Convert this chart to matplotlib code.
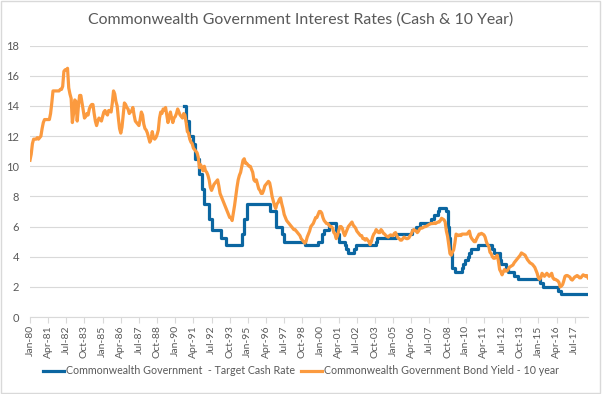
import matplotlib
matplotlib.use("Agg")
import matplotlib.pyplot as plt
from matplotlib.patches import Rectangle
import pandas as pd

plt.rcParams['font.family'] = ['Lato', 'DejaVu Sans']

TITLE = "Commonwealth Government Interest Rates (Cash & 10 Year)"
CASH_LABEL = "Commonwealth Government  - Target Cash Rate"
BOND_LABEL = "Commonwealth Government Bond Yield - 10 year"
START = "1980-01-01"

# 10 year bond yield, monthly from Jan-80 (one row per year)
bond_yield = [
    10.4, 10.8, 11.5, 11.8, 11.8, 11.8, 11.9, 11.8, 11.9, 12.0, 12.5, 12.9,  # 1980
    13.1, 13.1, 13.1, 13.1, 13.1, 13.5, 14.2, 15.0, 15.0, 15.0, 15.0, 15.0,  # 1981
    15.0, 15.1, 15.1, 15.3, 16.3, 16.4, 16.4, 16.5, 15.2, 14.8, 14.5, 12.9,  # 1982
    13.5, 14.4, 14.3, 13.0, 14.0, 14.7, 14.7, 14.2, 13.7, 13.2, 13.3, 13.5,  # 1983
    13.4, 13.8, 14.0, 14.1, 14.1, 13.5, 13.0, 12.7, 13.0, 13.2, 13.1, 13.0,  # 1984
    13.3, 13.6, 13.7, 13.5, 13.4, 13.7, 13.7, 13.6, 14.2, 15.0, 14.8, 14.3,  # 1985
    14.0, 13.2, 12.5, 12.2, 12.6, 13.4, 14.2, 14.1, 13.9, 13.8, 13.5, 13.6,  # 1986
    13.7, 13.9, 13.4, 13.0, 12.9, 12.8, 12.7, 13.1, 13.6, 13.4, 12.8, 12.5,  # 1987
    12.4, 12.2, 11.9, 11.6, 11.8, 12.3, 11.9, 11.8, 11.9, 12.1, 12.4, 13.2,  # 1988
    13.6, 13.5, 13.8, 13.7, 13.9, 13.4, 12.9, 13.3, 13.6, 13.2, 12.9, 13.2,  # 1989
    13.3, 13.5, 13.8, 13.6, 13.4, 13.3, 13.2, 13.5, 13.4, 12.9, 12.3, 12.2,  # 1990
    11.8, 11.6, 11.5, 11.2, 11.1, 11.0, 10.9, 10.6, 9.9, 10.1, 9.9, 9.7,     # 1991
    10.0, 9.7, 9.6, 9.4, 9.1, 8.6, 8.4, 8.6, 8.8, 8.9, 9.0, 9.1,             # 1992
    8.7, 8.2, 8.0, 7.8, 7.6, 7.4, 7.2, 7.0, 6.8, 6.6, 6.6, 6.4,              # 1993
    6.9, 7.4, 8.0, 8.6, 9.1, 9.4, 9.6, 10.0, 10.4, 10.5, 10.2, 10.2,         # 1994
    10.1, 10.0, 10.0, 9.8, 9.6, 9.1, 9.0, 9.1, 8.8, 8.5, 8.4, 8.2,           # 1995
    8.2, 8.4, 8.7, 8.8, 8.9, 9.0, 8.9, 8.5, 8.0, 7.7, 7.4, 7.2,              # 1996
    7.5, 7.6, 7.8, 7.9, 7.5, 7.2, 6.8, 6.6, 6.4, 6.3, 6.2, 6.1,              # 1997
    6.0, 5.9, 5.8, 5.8, 5.7, 5.6, 5.5, 5.4, 5.2, 5.1, 5.0, 4.9,              # 1998
    5.0, 5.3, 5.5, 5.7, 6.0, 6.1, 6.2, 6.4, 6.6, 6.6, 6.8, 7.0,              # 1999
    7.0, 6.9, 6.6, 6.4, 6.3, 6.2, 6.2, 6.1, 6.0, 6.0, 5.9, 5.6,              # 2000
    5.5, 5.2, 5.4, 5.7, 6.0, 6.0, 5.9, 5.6, 5.4, 5.6, 5.8, 6.0,              # 2001
    6.1, 6.2, 6.3, 6.1, 6.0, 5.9, 5.7, 5.6, 5.5, 5.4, 5.4, 5.2,              # 2002
    5.2, 5.1, 5.2, 5.1, 5.0, 4.8, 5.0, 5.3, 5.5, 5.6, 5.8, 5.7,              # 2003
    5.6, 5.6, 5.8, 5.7, 5.55, 5.5, 5.4, 5.35, 5.3, 5.4, 5.45, 5.4,           # 2004
    5.4, 5.55, 5.6, 5.4, 5.25, 5.2, 5.1, 5.1, 5.2, 5.3, 5.25, 5.2,           # 2005
    5.2, 5.25, 5.4, 5.5, 5.7, 5.8, 5.75, 5.7, 5.6, 5.7, 5.85, 5.9,           # 2006
    5.9, 5.95, 6.0, 6.0, 6.05, 6.1, 6.15, 6.2, 6.2, 6.2, 6.25, 6.2,          # 2007
    6.25, 6.3, 6.3, 6.4, 6.55, 6.5, 6.45, 6.3, 5.7, 5.35, 4.8, 4.2,          # 2008
    4.1, 4.3, 4.45, 4.9, 5.5, 5.45, 5.4, 5.45, 5.4, 5.5, 5.5, 5.5,           # 2009
    5.5, 5.5, 5.6, 5.7, 5.35, 5.2, 5.1, 5.0, 5.0, 5.2, 5.35, 5.5,            # 2010
    5.5, 5.55, 5.5, 5.45, 5.3, 5.0, 4.8, 4.7, 4.3, 4.2, 4.0, 3.9,            # 2011
    3.9, 4.0, 4.1, 3.7, 3.15, 3.0, 2.8, 3.0, 3.15, 3.05, 3.05, 3.15,         # 2012
    3.3, 3.35, 3.4, 3.45, 3.6, 3.7, 3.8, 3.9, 4.0, 4.1, 4.25, 4.2,           # 2013
    4.15, 4.1, 3.95, 3.8, 3.7, 3.6, 3.55, 3.5, 3.4, 3.3, 3.1, 2.9,           # 2014
    2.6, 2.5, 2.6, 2.9, 2.8, 2.7, 2.8, 2.9, 2.8, 2.7, 2.8, 2.9,              # 2015
    2.6, 2.5, 2.5, 2.45, 2.4, 2.3, 2.0, 2.05, 2.15, 2.4, 2.7, 2.75,          # 2016
    2.75, 2.7, 2.65, 2.5, 2.45, 2.55, 2.65, 2.7, 2.75, 2.7, 2.6, 2.6,        # 2017
    2.7, 2.8, 2.75, 2.7, 2.75, 2.6,                                          # 2018
]

# target cash rate: month it changed and the new rate (last entry = end of data)
cash_dates = [
    "1990-08", "1990-10", "1990-12", "1991-04", "1991-05", "1991-09", "1991-11",
    "1992-01", "1992-05", "1992-07", "1993-03", "1993-07", "1994-08", "1994-10",
    "1994-12", "1996-07", "1996-12", "1997-05", "1997-07", "1998-12", "1999-11",
    "2000-02", "2000-04", "2000-08", "2001-02", "2001-03", "2001-04", "2001-09",
    "2001-10", "2001-12", "2002-05", "2002-06", "2003-11", "2003-12", "2005-03",
    "2006-05", "2006-08", "2006-11", "2007-08", "2007-11", "2008-02", "2008-03",
    "2008-09", "2008-10", "2008-11", "2008-12", "2009-02", "2009-04", "2009-10",
    "2009-11", "2009-12", "2010-03", "2010-04", "2010-05", "2010-11", "2011-11",
    "2011-12", "2012-05", "2012-06", "2012-10", "2012-12", "2013-05", "2013-08",
    "2015-02", "2015-05", "2016-05", "2016-08", "2018-06",
]
cash_rates = [
    14.0, 13.0, 12.0, 11.5, 10.5, 9.5, 8.5,
    7.5, 6.5, 5.75, 5.25, 4.75, 5.5, 6.5,
    7.5, 7.0, 6.0, 5.5, 5.0, 4.75, 5.0,
    5.5, 5.75, 6.25, 5.75, 5.5, 5.0, 4.75,
    4.5, 4.25, 4.5, 4.75, 5.0, 5.25, 5.5,
    5.75, 6.0, 6.25, 6.5, 6.75, 7.0, 7.25,
    7.0, 6.0, 5.25, 4.25, 3.25, 3.0, 3.25,
    3.5, 3.75, 4.0, 4.25, 4.5, 4.75, 4.5,
    4.25, 3.75, 3.5, 3.25, 3.0, 2.75, 2.5,
    2.25, 2.0, 1.75, 1.5, 1.5,
]

months = pd.date_range(START, periods=len(bond_yield), freq="MS")
start = pd.Timestamp(START)
cash_x = [(d.year - start.year) * 12 + d.month - 1 for d in pd.to_datetime(cash_dates)]

BLUE = "#0b66a1"
ORANGE = "#fb9a3f"
TEXT = "#595959"
GRID = "#d9d9d9"

fig = plt.figure(figsize=(6.02, 3.94), dpi=100)
ax = fig.add_axes([30 / 602, 1 - 317 / 394, 558 / 602, (317 - 45.7) / 394])

ax.plot(cash_x, cash_rates, color=BLUE, lw=2.3, drawstyle="steps-post",
        label=CASH_LABEL, zorder=3)
ax.plot(range(len(bond_yield)), bond_yield, color=ORANGE, lw=2.3,
        label=BOND_LABEL, zorder=4)

ax.set_xlim(0, len(bond_yield) - 1)
ax.set_ylim(0, 18)
ax.set_yticks(range(0, 19, 2))
ticks = list(range(0, len(bond_yield), 15))
ax.set_xticks(ticks)
ax.set_xticklabels([months[i].strftime("%b-%y") for i in ticks], rotation=90)

ax.grid(axis="y", color=GRID, lw=0.8)
ax.set_axisbelow(True)
for s in ["top", "right", "left"]:
    ax.spines[s].set_visible(False)
ax.spines["bottom"].set_color(GRID)
ax.tick_params(axis="y", length=0, labelsize=8, colors=TEXT, pad=8)
ax.tick_params(axis="x", length=4, color=GRID, labelsize=7.5, labelcolor=TEXT, pad=2)

fig.suptitle(TITLE, x=0.5, y=0.968, fontsize=11.4, color=TEXT)
fig.legend(loc="lower center", bbox_to_anchor=(0.5, 0.02), ncol=2, frameon=False,
           fontsize=7.7, labelcolor=TEXT, handlelength=2.0, handletextpad=0.2,
           columnspacing=0.5)

fig.patches.append(Rectangle((0.002, 0.003), 0.995, 0.994, transform=fig.transFigure,
                             fill=False, edgecolor=GRID, lw=1))
fig.savefig("out.png", dpi=100)
